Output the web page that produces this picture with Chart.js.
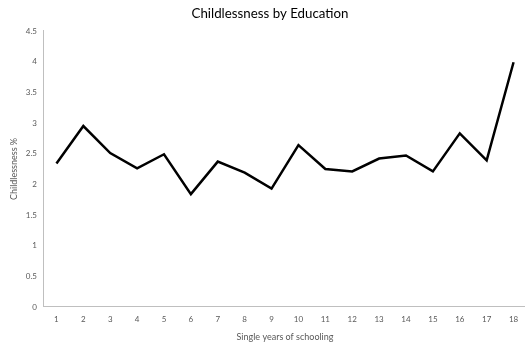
<!DOCTYPE html>
<html>
<head>
<meta charset="utf-8">
<script src="https://cdn.jsdelivr.net/npm/chart.js@4"></script>
<style>
  html, body { margin: 0; padding: 0; background: #ffffff; overflow: hidden; }
  #wrap { position: relative; width: 527px; height: 350px; }
</style>
</head>
<body>
<div id="wrap"><canvas id="c" width="527" height="350"></canvas></div>
<script>
const categories = ['1','2','3','4','5','6','7','8','9','10','11','12','13','14','15','16','17','18'];
const childlessness = [2.34, 2.95, 2.51, 2.26, 2.49, 1.84, 2.37, 2.19, 1.93, 2.64, 2.25, 2.21, 2.42, 2.47, 2.21, 2.83, 2.39, 3.99];
const yTicks = [0, 0.5, 1, 1.5, 2, 2.5, 3, 3.5, 4, 4.5];

const FONT = 'Lato, "Liberation Sans", sans-serif';
const labelColor = '#595959';
const axisColor = '#bfbfbf';

const shiftTitle = {
  id: 'shiftTitle',
  afterLayout(chart) {
    const t = chart.titleBlock;
    if (t) { t.left += 6.5; t.right += 6.5; }
  }
};

new Chart(document.getElementById('c'), {
  type: 'line',
  data: {
    labels: categories,
    datasets: [{
      label: 'Childlessness %',
      data: childlessness,
      borderColor: '#000000',
      borderWidth: 2.5,
      pointRadius: 0,
      tension: 0,
      fill: false
    }]
  },
  options: {
    responsive: false,
    animation: false,
    layout: { padding: 0 },
    plugins: {
      legend: { display: false },
      tooltip: { enabled: false },
      title: {
        display: true,
        text: 'Childlessness by Education',
        color: '#000000',
        font: { family: FONT, size: 13.3, weight: 'normal' },
        padding: { top: 5.5, bottom: 9.5 }
      }
    },
    scales: {
      x: {
        offset: true,
        grid: { display: false, drawTicks: false },
        border: { display: true, color: axisColor, width: 1 },
        ticks: { color: labelColor, font: { family: FONT, size: 8 }, padding: 8, maxRotation: 0, autoSkip: false },
        title: { display: true, text: 'Single years of schooling', color: labelColor, font: { family: FONT, size: 9 }, padding: { top: 4, bottom: 8 } },
        afterFit: s => { s.height = 43; }
      },
      y: {
        min: 0,
        max: 4.5,
        afterBuildTicks: s => { s.ticks = yTicks.map(v => ({ value: v })); },
        grid: { display: false, drawTicks: false },
        border: { display: true, color: axisColor, width: 1 },
        ticks: { color: labelColor, font: { family: FONT, size: 8 }, padding: 6, callback: v => String(v) },
        title: { display: true, text: 'Childlessness %', color: labelColor, font: { family: FONT, size: 9 }, padding: { top: 8.6, bottom: 0 } },
        afterFit: s => { s.width = 43; }
      }
    }
  },
  plugins: [shiftTitle]
});
</script>
</body>
</html>
